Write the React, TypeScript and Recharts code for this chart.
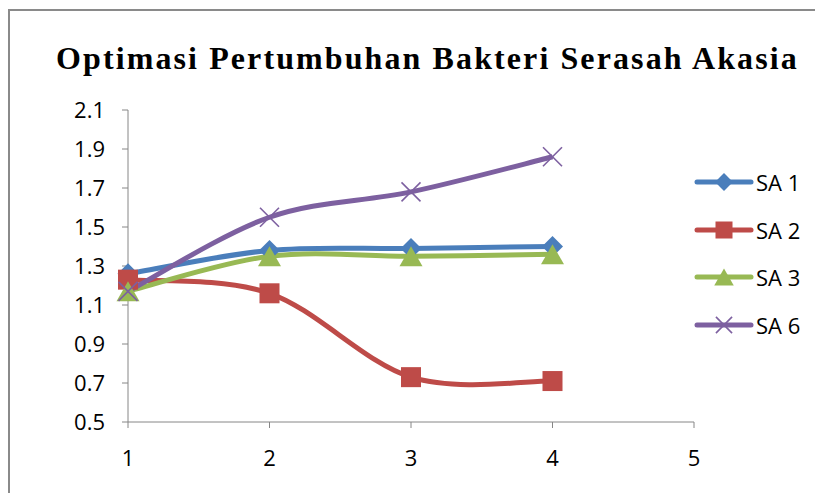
import React from "react";
import { LineChart, Line, XAxis, YAxis, Legend } from "recharts";

const xValues = [1, 2, 3, 4];
const sa1 = [1.26, 1.38, 1.39, 1.4];
const sa2 = [1.23, 1.16, 0.73, 0.71];
const sa3 = [1.17, 1.35, 1.35, 1.36];
const sa6 = [1.17, 1.55, 1.68, 1.86];
const xTicks = [1, 2, 3, 4, 5];
const yTicks = [0.5, 0.7, 0.9, 1.1, 1.3, 1.5, 1.7, 1.9, 2.1];
const seriesNames = ["SA 1", "SA 2", "SA 3", "SA 6"];
const title = "Optimasi Pertumbuhan Bakteri Serasah Akasia";

const data = xValues.map((x, i) => ({ x, sa1: sa1[i], sa2: sa2[i], sa3: sa3[i], sa6: sa6[i] }));

const COLORS = ["#4A7EBB", "#BE4B48", "#98B954", "#7D60A0"];
const MARKERS = ["diamond", "square", "triangle", "x"];
const FONT = "'Open Sans', 'Liberation Sans', sans-serif";

// Excel-like smoothed line (Catmull-Rom style Bezier)
function smoothCurve(context: any) {
  let pts: number[][] = [];
  return {
    areaStart() {},
    areaEnd() {},
    lineStart() {
      pts = [];
    },
    lineEnd() {
      const n = pts.length;
      if (!n) return;
      context.moveTo(pts[0][0], pts[0][1]);
      const t = 1 / 6;
      for (let i = 0; i < n - 1; i++) {
        const p0 = pts[i - 1] || pts[i];
        const p1 = pts[i];
        const p2 = pts[i + 1];
        const p3 = pts[i + 2] || p2;
        context.bezierCurveTo(
          p1[0] + (p2[0] - p0[0]) * t,
          p1[1] + (p2[1] - p0[1]) * t,
          p2[0] - (p3[0] - p1[0]) * t,
          p2[1] - (p3[1] - p1[1]) * t,
          p2[0],
          p2[1]
        );
      }
    },
    point(x: number, y: number) {
      pts.push([+x, +y]);
    },
  };
}

function Marker({ kind, cx, cy, color, scale = 1 }: any) {
  if (cx == null || cy == null) return null;
  if (kind === "diamond") {
    const r = 10.5 * scale;
    return <polygon points={`${cx},${cy - r} ${cx + r},${cy} ${cx},${cy + r} ${cx - r},${cy}`} fill={color} />;
  }
  if (kind === "square") {
    const r = 10 * scale;
    return <rect x={cx - r} y={cy - r} width={2 * r} height={2 * r} fill={color} />;
  }
  if (kind === "triangle") {
    const w = 11.5 * scale;
    const h = 10 * scale;
    return <polygon points={`${cx},${cy - h} ${cx + w},${cy + h} ${cx - w},${cy + h}`} fill={color} />;
  }
  const r = 9.5 * scale;
  return (
    <g stroke={color} strokeWidth={1.6}>
      <line x1={cx - r} y1={cy - r} x2={cx + r} y2={cy + r} />
      <line x1={cx - r} y1={cy + r} x2={cx + r} y2={cy - r} />
    </g>
  );
}

const makeDot = (i: number) => (props: any) => (
  <Marker key={`dot-${i}-${props.index}`} kind={MARKERS[i]} cx={props.cx} cy={props.cy} color={COLORS[i]} />
);

const XTick = (props: any) => (
  <text
    x={props.x}
    y={props.y}
    dy={18}
    textAnchor="middle"
    style={{ fontFamily: FONT, fontSize: 22, fill: "#000" }}
  >
    {String(props.payload.value)}
  </text>
);

const YTick = (props: any) => (
  <text
    x={props.x}
    y={props.y}
    dy={8}
    textAnchor="end"
    style={{ fontFamily: FONT, fontSize: 22, fill: "#000" }}
  >
    {Number(props.payload.value).toFixed(1)}
  </text>
);

function LegendContent() {
  return (
    <div style={{ display: "flex", flexDirection: "column" }}>
      {seriesNames.map((name, i) => (
        <div key={name} style={{ display: "flex", alignItems: "center", height: 47.7 }}>
          <svg width={60} height={24} style={{ display: "block" }}>
            <line x1={3} y1={12} x2={57} y2={12} stroke={COLORS[i]} strokeWidth={5} strokeLinecap="round" />
            <Marker kind={MARKERS[i]} cx={30} cy={12} color={COLORS[i]} scale={0.85} />
          </svg>
          <span style={{ fontFamily: FONT, fontSize: 22, color: "#000", marginLeft: 2, lineHeight: "24px" }}>
            {name}
          </span>
        </div>
      ))}
    </div>
  );
}

export default function App() {
  return (
    <div style={{ position: "absolute", left: 0, top: 0, width: 815, height: 493, background: "#fff", overflow: "hidden" }}>
      <div
        style={{
          position: "absolute",
          left: 8,
          top: 9,
          width: 820,
          height: 500,
          borderTop: "2px solid #8A8A8A",
          borderLeft: "2px solid #8A8A8A",
        }}
      />
      <div
        style={{
          position: "absolute",
          left: 56,
          top: 42,
          fontFamily: "'Liberation Serif', 'Times New Roman', serif",
          fontWeight: "bold",
          fontSize: 32,
          lineHeight: "32px",
          letterSpacing: 2.1,
          color: "#000",
          whiteSpace: "nowrap",
        }}
      >
        {title}
      </div>
      <div style={{ position: "absolute", left: 0, top: 0 }}>
        <LineChart width={815} height={493} data={data} margin={{ top: 110, right: 121, bottom: 41, left: 68 }}>
          <XAxis
            dataKey="x"
            type="number"
            domain={[1, 5]}
            ticks={xTicks}
            interval={0}
            stroke="#868686"
            tickSize={6}
            tickMargin={20}
            tick={<XTick />}
            height={30}
          />
          <YAxis
            type="number"
            domain={[0.5, 2.1]}
            ticks={yTicks}
            interval={0}
            stroke="#868686"
            tickSize={6}
            tickMargin={17}
            tick={<YTick />}
            width={60}
          />
          <Legend
            layout="vertical"
            align="center"
            verticalAlign="middle"
            content={<LegendContent />}
            wrapperStyle={{ left: 694, top: 158, width: 120 }}
          />
          {["sa1", "sa2", "sa3", "sa6"].map((k, i) => (
            <Line
              key={k}
              dataKey={k}
              name={seriesNames[i]}
              type={smoothCurve as any}
              stroke={COLORS[i]}
              strokeWidth={5}
              dot={makeDot(i)}
              activeDot={false}
              isAnimationActive={false}
            />
          ))}
        </LineChart>
      </div>
    </div>
  );
}
